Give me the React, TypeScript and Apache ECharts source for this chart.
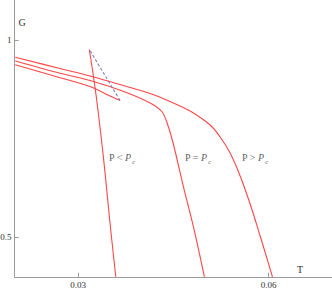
import React, { useEffect, useRef } from "react";
import * as echarts from "echarts";

// P > Pc branch
const tAbove = [0.0201, 0.02716, 0.031885, 0.037402, 0.041343, 0.044495, 0.047648, 0.050801, 0.052377, 0.053953, 0.05553, 0.057106, 0.058683, 0.060621];
const gAbove = [0.9561, 0.9277, 0.9087, 0.8834, 0.8644, 0.8441, 0.8201, 0.7846, 0.7542, 0.7137, 0.6554, 0.5844, 0.5034, 0.4];

// P = Pc branch
const tCrit = [0.0201, 0.02716, 0.031885, 0.037402, 0.041343, 0.043187, 0.043976, 0.044969, 0.046592, 0.048169, 0.049903];
const gCrit = [0.9467, 0.9156, 0.8973, 0.8682, 0.8403, 0.8188, 0.7922, 0.739, 0.6283, 0.5269, 0.4];

// P < Pc: small branch, unstable (dashed) branch, large branch
const tSmall = [0.0201, 0.02716, 0.031885, 0.035038, 0.036614];
const gSmall = [0.9374, 0.9044, 0.8821, 0.8581, 0.8467];
const tUnstable = [0.036614, 0.031775];
const gUnstable = [0.8467, 0.9759];
const tLarge = [0.031775, 0.032831, 0.033982, 0.035038, 0.035936];
const gLarge = [0.9759, 0.8606, 0.7043, 0.5355, 0.4];

// annotations
const labelOps = ["<", "=", ">"];
const labelT = [0.03693, 0.04891, 0.05789];
const labelG = [0.701, 0.701, 0.701];

const xTicks = [0.03, 0.06];
const yTicks = [0.5, 1];

const FONT = '"Liberation Serif", "DejaVu Serif", serif';
const RED = "#ff4545";
const AXIS = "#9a9a9a";
const TEXT = "#333333";

const zip = (a: number[], b: number[]) => a.map((v, i) => [v, b[i]]);
const fmt = (v: number) => String(+(+v).toFixed(2));

export default function App() {
  const ref = useRef<HTMLDivElement>(null);
  useEffect(() => {
    if (!ref.current) return;
    const chart = echarts.init(ref.current, null, { renderer: "svg" });
    const lineBase = {
      type: "line",
      showSymbol: false,
      symbol: "none",
      smooth: 0.4,
      silent: true,
    };
    chart.setOption({
      animation: false,
      backgroundColor: "#ffffff",
      grid: { left: 14.6, right: 0, top: 0.5, bottom: 14.2, outerBoundsMode: "none" },
      xAxis: {
        type: "value",
        min: 0.02,
        max: 0.07,
        axisLine: { lineStyle: { color: AXIS, width: 1 } },
        axisTick: { inside: true, length: 4, customValues: xTicks, lineStyle: { color: AXIS } },
        axisLabel: { customValues: xTicks, formatter: fmt, color: TEXT, fontSize: 9, fontFamily: FONT, margin: 4 },
        splitLine: { show: false },
        name: "T",
        nameLocation: "end",
        nameGap: -35,
        nameTextStyle: { color: TEXT, fontSize: 10, fontFamily: FONT, verticalAlign: "bottom", padding: [0, 0, 2, 0] },
      },
      yAxis: {
        type: "value",
        min: 0.4,
        max: 1.1,
        axisLine: { show: true, lineStyle: { color: AXIS, width: 1 } },
        axisTick: { show: true, inside: true, length: 4, customValues: yTicks, lineStyle: { color: AXIS } },
        axisLabel: { customValues: yTicks, formatter: fmt, color: TEXT, fontSize: 9, fontFamily: FONT, margin: 3 },
        splitLine: { show: false },
        name: "G",
        nameLocation: "end",
        nameGap: -22,
        nameTextStyle: { color: TEXT, fontSize: 10, fontFamily: FONT, align: "left", verticalAlign: "middle", padding: [0, 0, 0, 4] },
      },
      series: [
        { ...lineBase, name: "above", data: zip(tAbove, gAbove), lineStyle: { color: RED, width: 1.1 } },
        { ...lineBase, name: "critical", smooth: 0.3, data: zip(tCrit, gCrit), lineStyle: { color: RED, width: 1.1 } },
        { ...lineBase, name: "small", data: zip(tSmall, gSmall), lineStyle: { color: RED, width: 1.1 } },
        { ...lineBase, name: "unstable", smooth: false, data: zip(tUnstable, gUnstable), lineStyle: { color: "#7f7fc8", width: 1.1, type: [3, 2] } },
        { ...lineBase, name: "large", data: zip(tLarge, gLarge), lineStyle: { color: RED, width: 1.1 } },
        {
          type: "scatter",
          name: "labels",
          symbolSize: 0,
          silent: true,
          data: labelT.map((t, i) => [t, labelG[i]]),
          label: {
            show: true,
            position: "inside",
            formatter: (p: any) => `{n|P ${labelOps[p.dataIndex]} }{i|P}{s|c}`,
            rich: {
              n: { fontFamily: FONT, fontSize: 10, color: TEXT, lineHeight: 10, verticalAlign: "middle" },
              i: { fontFamily: FONT, fontSize: 10, fontStyle: "italic", color: TEXT, lineHeight: 10, verticalAlign: "middle" },
              s: { fontFamily: FONT, fontSize: 7, fontStyle: "italic", color: TEXT, lineHeight: 15, verticalAlign: "bottom", padding: [0, 0, 0, 1] },
            },
          },
        },
      ],
    });
    return () => chart.dispose();
  }, []);
  return (
    <div
      ref={ref}
      style={{ position: "fixed", left: 0, top: 0, width: 332, height: 291 }}
    />
  );
}
